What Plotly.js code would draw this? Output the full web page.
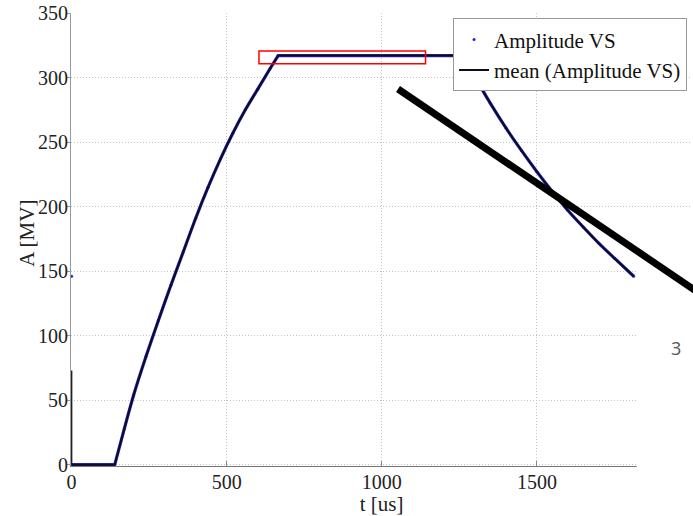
<!DOCTYPE html>
<html>
<head>
<meta charset="utf-8">
<script src="https://cdn.plot.ly/plotly-3.0.1.min.js"></script>
<style>html,body{margin:0;padding:0;background:#fff;}#chart{width:693px;height:516px;}</style>
</head>
<body>
<div id="chart"></div>
<script>
// Time axis (us) and amplitude (MV), by segment
const tFlat = [0, 139];
const aFlat = [0, 0];
const tRise = [139, 170, 200, 240, 280, 320, 360, 400, 440, 480, 520, 560, 600, 640, 666];
const aRise = [0, 28, 54, 84, 112, 139, 165, 191, 215, 237, 257, 275, 291, 307, 317];
const tTop = [666, 1262];
const aTop = [317, 317];
const tFall = [1262, 1300, 1350, 1400, 1450, 1500, 1550, 1600, 1650, 1700, 1750, 1812];
const aFall = [317, 300.5, 280, 261, 243.5, 227, 211.5, 197, 184, 171.5, 160, 146];
const tEdge = [0, 0];
const aEdge = [0, 73];
const tSpike = [0];
const aSpike = [146];
const xTickVals = [0, 500, 1000, 1500, 2000];
const xTickText = ['0', '500', '1000', '1500', ''];
const yTickVals = [0, 50, 100, 150, 200, 250, 300, 350];
const seriesNames = ['Amplitude VS', 'mean (Amplitude VS)'];
const xTitle = 't [us]';
const yTitle = 'A [MV]';
const pageNumber = '3';
// highlighted box (data coordinates)
const boxX = [604, 1141];
const boxY = [310.6, 320.6];

const segments = [
  {t: tFlat, a: aFlat, shape: 'linear'},
  {t: tRise, a: aRise, shape: 'spline'},
  {t: tTop, a: aTop, shape: 'linear'},
  {t: tFall, a: aFall, shape: 'spline'}
];

const serif = 'Liberation Serif, Times New Roman, serif';
const traces = [];

// blue underlay of the measured signal
segments.forEach(s => traces.push({
  x: s.t, y: s.a, mode: 'lines', line: {color: '#2a2ad0', width: 3.2, shape: s.shape, smoothing: 0.8},
  showlegend: false, hoverinfo: 'skip'
}));
// measured points (legend entry with dot)
traces.push({
  x: [].concat(tFlat, tRise, tTop, tFall, tSpike), y: [].concat(aFlat, aRise, aTop, aFall, aSpike),
  mode: 'markers', name: seriesNames[0], marker: {color: '#2020e0', size: 3}, cliponaxis: false
});
// mean line
segments.forEach((s, i) => traces.push({
  x: s.t, y: s.a, mode: 'lines', name: seriesNames[1], legendgroup: 'mean', showlegend: i === 0,
  line: {color: '#0c0c1c', width: 2, shape: s.shape, smoothing: 0.8}
}));
traces.push({x: tEdge, y: aEdge, mode: 'lines', line: {color: '#222', width: 1.5}, showlegend: false, hoverinfo: 'skip'});

const layout = {
  width: 693, height: 516,
  margin: {l: 71, r: 1, t: 13, b: 50, pad: 0},
  paper_bgcolor: '#fff', plot_bgcolor: '#fff',
  font: {family: serif, size: 20, color: '#222'},
  showlegend: true,
  legend: {
    x: 0.992, xanchor: 'right', y: 0.988, yanchor: 'top',
    bgcolor: '#fff', bordercolor: '#999', borderwidth: 1,
    font: {family: serif, size: 21, color: '#111'},
    itemwidth: 30, tracegroupgap: 0
  },
  xaxis: {
    range: [-2, 2000], tickvals: xTickVals, ticktext: xTickText,
    showgrid: true, gridcolor: '#c4c4c4', griddash: '1px,2px', gridwidth: 1,
    zeroline: false, showline: true, linecolor: '#777', linewidth: 1,
    ticks: 'inside', ticklen: 5, tickcolor: '#888', ticklabelstandoff: -2,
    tickfont: {family: serif, size: 20, color: '#222'},
    title: {text: xTitle, font: {family: serif, size: 21, color: '#222'}, standoff: 7},
    fixedrange: true
  },
  yaxis: {
    range: [-1, 350], tickvals: yTickVals,
    showgrid: true, gridcolor: '#c4c4c4', griddash: '1px,2px', gridwidth: 1,
    zeroline: false, showline: true, linecolor: '#999', linewidth: 1,
    ticks: 'outside', ticklen: 3, tickcolor: '#999', ticklabelstandoff: -5,
    tickfont: {family: serif, size: 20, color: '#222'},
    title: {text: ''},
    fixedrange: true
  },
  shapes: [
    {type: 'rect', xref: 'x', yref: 'y', x0: boxX[0], x1: boxX[1], y0: boxY[0], y1: boxY[1],
     line: {color: '#ff0000', width: 1.5}, fillcolor: 'rgba(0,0,0,0)', layer: 'above'},
    {type: 'rect', xref: 'paper', yref: 'paper', x0: 0.911, x1: 1.1, y0: -0.2, y1: 0.545,
     line: {width: 0}, fillcolor: '#ffffff', layer: 'above'},
    {type: 'line', xref: 'paper', yref: 'paper', x0: 0.5266, y0: 0.8322, x1: 1.0129, y1: 0.3804,
     line: {color: '#000', width: 7}, layer: 'above'}
  ],
  annotations: [
    {xref: 'paper', yref: 'paper', x: -0.0709, y: 0.515, xanchor: 'center', yanchor: 'middle',
     text: yTitle, textangle: -90, showarrow: false,
     font: {family: serif, size: 21, color: '#222'}},
    {xref: 'paper', yref: 'paper', x: 0.9855, y: 0.2296, text: pageNumber, showarrow: false,
     font: {family: 'Open Sans, sans-serif', size: 18, color: '#555'}}
  ]
};

Plotly.newPlot('chart', traces, layout, {displayModeBar: false, staticPlot: true});
</script>
</body>
</html>
